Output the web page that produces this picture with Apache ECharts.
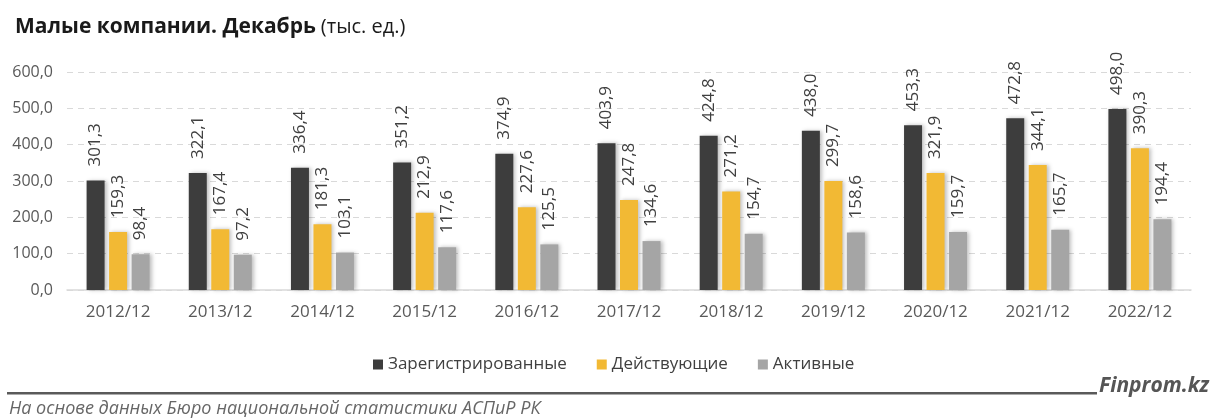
<!DOCTYPE html>
<html><head><meta charset="utf-8">
<script src="https://cdn.jsdelivr.net/npm/echarts@6/dist/echarts.min.js"></script>
<style>html,body{margin:0;padding:0;background:#fff}#c{width:1214px;height:420px}</style>
</head><body><div id="c"></div>
<script>
const categories = ['2012/12','2013/12','2014/12','2015/12','2016/12','2017/12','2018/12','2019/12','2020/12','2021/12','2022/12'];
const registered = [301.3,322.1,336.4,351.2,374.9,403.9,424.8,438.0,453.3,472.8,498.0];
const operating = [159.3,167.4,181.3,212.9,227.6,247.8,271.2,299.7,321.9,344.1,390.3];
const active = [98.4,97.2,103.1,117.6,125.5,134.6,154.7,158.6,159.7,165.7,194.4];
const seriesNames = ['Зарегистрированные','Действующие','Активные'];
const yTicks = [0,100,200,300,400,500,600];

const FONT = '"Open Sans", "Noto Sans", sans-serif';
const fmt = v => v.toFixed(1).replace('.', ',');
const colors = ['#3d3d3d','#f2b934','#a5a5a5'];

function mk(name, data, color){
  return {
    name, type:'bar', data, barWidth:18, barGap:'25%',
    itemStyle:{color, shadowColor:'rgba(0,0,0,0.25)', shadowBlur:4, shadowOffsetX:2, shadowOffsetY:0},
    label:{show:true, position:'top', rotate:90, align:'left', verticalAlign:'middle', distance:14,
      color:'#404040', fontSize:17, fontFamily:FONT, formatter:p=>fmt(p.value)}
  };
}

const chart = echarts.init(document.getElementById('c'));
chart.setOption({
  animation:false,
  title:{left:10, top:12, text:'{b|Малые компании. Декабрь} {n|(тыс. ед.)}',
    textStyle:{rich:{b:{fontSize:21,fontWeight:'bold',color:'#1a1a1a',fontFamily:FONT},n:{fontSize:20,fontWeight:'normal',color:'#1a1a1a',fontFamily:FONT}}}},
  legend:{top:351, left:368, itemWidth:10, itemHeight:10, itemGap:30, icon:'rect',
    textStyle:{fontSize:17,color:'#404040',fontFamily:FONT}, data:seriesNames},
  grid:{left:67, right:23, top:72, bottom:130},
  xAxis:{type:'category', data:categories,
    axisLine:{lineStyle:{color:'#d9d9d9', width:1.5}}, axisTick:{show:false},
    axisLabel:{color:'#595959', fontSize:17, fontFamily:FONT, margin:14}},
  yAxis:{type:'value', min:0, max:600, interval:100,
    axisLabel:{color:'#595959', fontSize:16, fontFamily:FONT, margin:14, formatter:v=>yTicks.includes(v)?fmt(v):''},
    splitLine:{lineStyle:{color:'#d9d9d9', type:[6,5]}}},
  series:[mk(seriesNames[0],registered,colors[0]), mk(seriesNames[1],operating,colors[1]), mk(seriesNames[2],active,colors[2])],
  graphic:[
    {type:'rect', shape:{x:7,y:392,width:1090,height:2.5}, style:{fill:'#5a5a5a'}},
    {type:'text', left:1099, top:376, style:{text:'Finprom.kz', fontSize:21, fontStyle:'italic', fontWeight:'bold', fill:'#555555', fontFamily:FONT}},
    {type:'text', left:9, top:400, style:{text:'На основе данных Бюро национальной статистики АСПиР РК', fontSize:18, fontStyle:'italic', fill:'#666666', fontFamily:FONT}}
  ]
});
</script></body></html>
